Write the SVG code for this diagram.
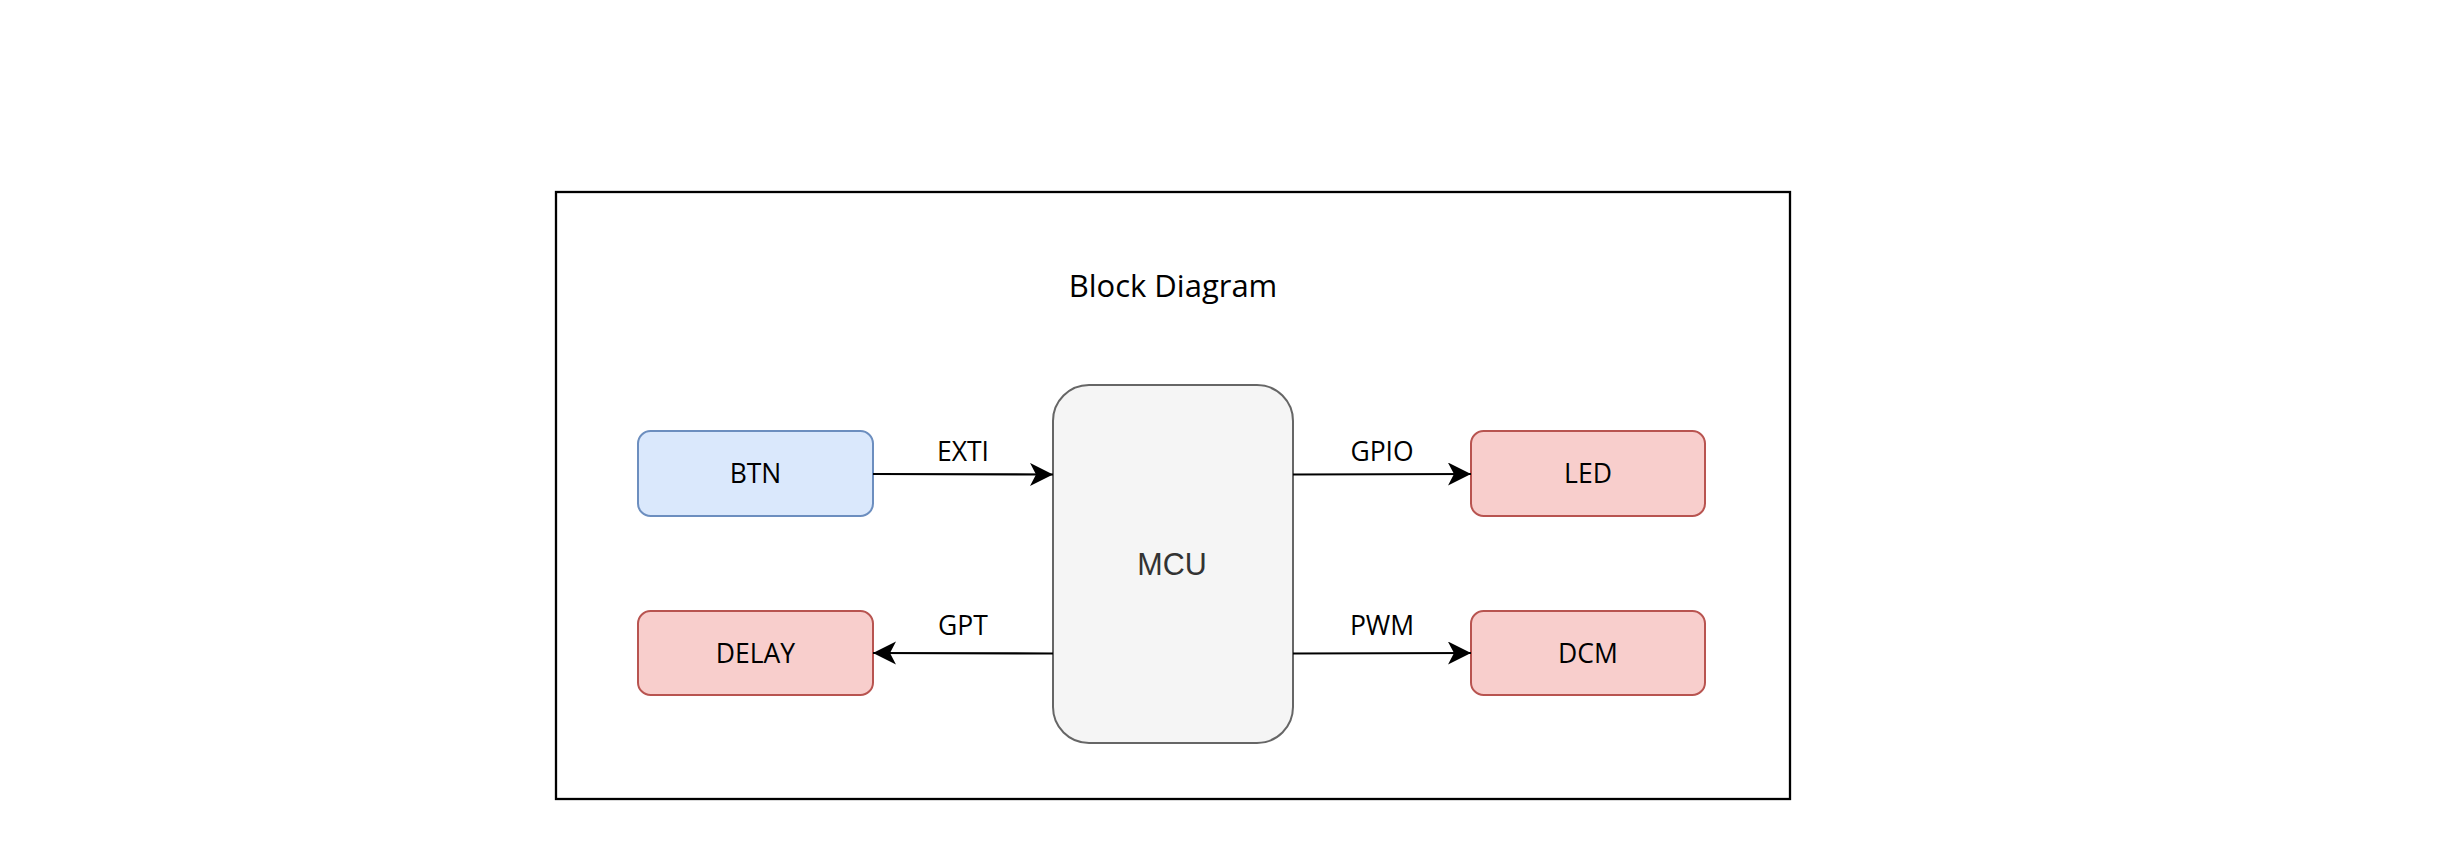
<svg xmlns="http://www.w3.org/2000/svg" width="2440" height="842" viewBox="0 0 2440 842">
<style>
.lbl{font-family:"Open Sans","Noto Sans","Liberation Sans",sans-serif;font-size:26.5px;fill:#000;text-anchor:middle}
.title{font-family:"Open Sans","Noto Sans","Liberation Sans",sans-serif;font-size:31px;fill:#000;text-anchor:middle}
.mcu{font-family:"Liberation Sans",Arial,sans-serif;font-size:30.5px;fill:#333333;text-anchor:middle}
.blue{fill:#dae8fc;stroke:#6c8ebf;stroke-width:2}
.red{fill:#f8cecc;stroke:#b85450;stroke-width:2}
.edge{stroke:#000;stroke-width:2.2;fill:none;marker-end:url(#arr)}
</style>
<defs>
<marker id="arr" markerUnits="userSpaceOnUse" markerWidth="26" markerHeight="26" refX="23" refY="11.5" orient="auto" viewBox="0 0 26 26">
<path d="M0,0 L23,11.5 L0,23 L6,11.5 Z" fill="#000"/>
</marker>
</defs>
<rect width="2440" height="842" fill="#fff"/>
<g id="frame">
<rect x="556" y="192" width="1234" height="607" fill="#fff" stroke="#000" stroke-width="2.3"/>
<text class="title" x="1173" y="297">Block Diagram</text>
</g>
<g id="mcu">
<rect x="1053" y="385" width="240" height="358" rx="36" ry="36" fill="#f5f5f5" stroke="#666666" stroke-width="2"/>
<text class="mcu" x="1172" y="575">MCU</text>
</g>
<g id="btn">
<rect class="blue" x="638" y="431" width="235" height="85" rx="12.6"/>
<text class="lbl" x="755.5" y="483">BTN</text>
</g>
<g id="delay">
<rect class="red" x="638" y="611" width="235" height="84" rx="12.6"/>
<text class="lbl" x="755.5" y="663">DELAY</text>
</g>
<g id="led">
<rect class="red" x="1471" y="431" width="234" height="85" rx="12.6"/>
<text class="lbl" x="1588" y="483">LED</text>
</g>
<g id="dcm">
<rect class="red" x="1471" y="611" width="234" height="84" rx="12.6"/>
<text class="lbl" x="1588" y="663">DCM</text>
</g>
<g id="connectors">
<path class="edge" d="M873,474 L1053,474.5"/>
<path class="edge" d="M1053,653.5 L873,653"/>
<path class="edge" d="M1293,474.5 L1471,474"/>
<path class="edge" d="M1293,653.5 L1471,653"/>
<text class="lbl" x="963" y="461">EXTI</text>
<text class="lbl" x="963" y="635">GPT</text>
<text class="lbl" x="1382" y="461">GPIO</text>
<text class="lbl" x="1382" y="635">PWM</text>
</g>
</svg>
